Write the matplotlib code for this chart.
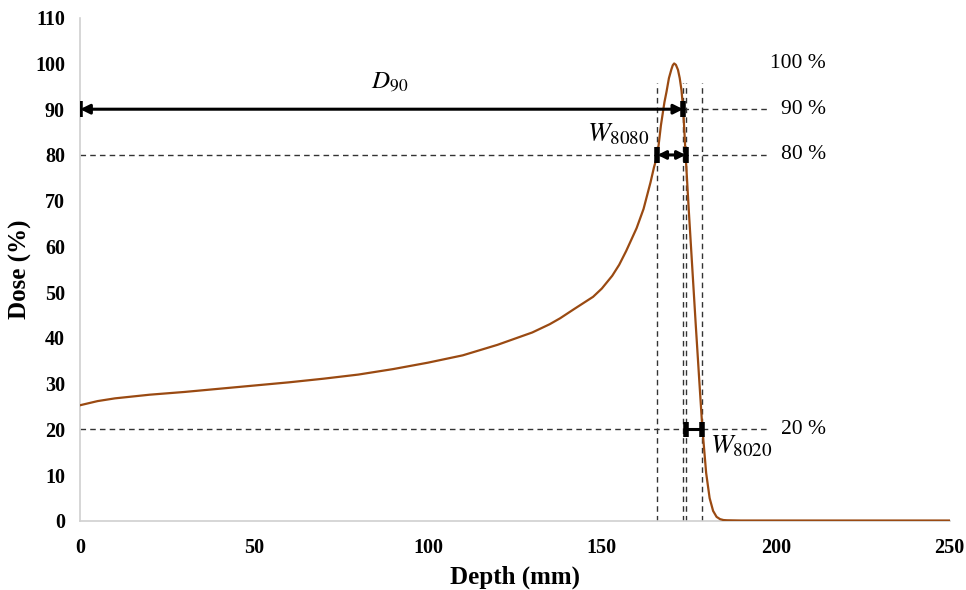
import numpy as np
import matplotlib.pyplot as plt

plt.rcParams['font.family'] = 'Liberation Serif'
plt.rcParams['mathtext.fontset'] = 'stix'

# depth-dose curve
depth = [0, 5, 10, 20, 30, 40, 50, 60, 70, 80, 90, 100, 110, 120, 130, 135,
         138, 142, 147.5, 150, 153, 155, 157, 160, 162, 164, 165, 166, 167,
         168, 168.6, 169.3, 170.0, 170.4, 170.8, 171.3, 171.9, 172.4, 172.9,
         173.4, 174.1, 175, 176, 177, 178, 178.9, 180, 181, 182, 183, 184,
         185, 186, 190, 200, 250]
dose = [25.3, 26.2, 26.8, 27.6, 28.2, 28.9, 29.6, 30.3, 31.1, 32.0, 33.2, 34.6,
        36.2, 38.5, 41.2, 43.0, 44.3, 46.3, 49.0, 50.8, 53.6, 56.0, 59.0,
        64.0, 68.2, 74.0, 77.3, 80.0, 86.5, 91.5, 93.8, 96.8, 98.7, 99.6,
        100.0, 99.7, 98.6, 96.8, 94.2, 90.0, 80.0, 68.0, 55.5, 43.0, 31.0,
        20.4, 10.5, 5.0, 2.2, 0.9, 0.4, 0.2, 0.15, 0.1, 0.1, 0.1]

# range markers (mm)
x_prox80 = 166.0
x_d90 = 173.4
x_dist80 = 174.1
x_dist20 = 178.9
level_labels = ['100 %', '90 %', '80 %', '20 %']
level_y = [100, 90, 80, 20]

fig = plt.figure(figsize=(9.66, 5.90), dpi=100)
ax = fig.add_axes([0.083, 0.117, 0.900, 0.853])

ax.plot(depth, dose, color='#9a4a12', lw=1.6, zorder=3)

# vertical dashed lines
for xv in [x_prox80, x_d90, x_dist80, x_dist20]:
    ax.plot([xv, xv], [0, 95.7], ls=(0, (4, 3)), color='#333333', lw=1.0, zorder=2)

# horizontal dashed lines
xend = 198.3
ax.plot([x_d90, xend], [90, 90], ls=(0, (4, 3)), color='#333333', lw=1.0)
ax.plot([0, xend], [80, 80], ls=(0, (4, 3)), color='#333333', lw=1.0)
ax.plot([0, xend], [20, 20], ls=(0, (4, 3)), color='#333333', lw=1.0)

# percentage labels
for lab, yy in zip(level_labels, level_y):
    ax.text(214.5, yy, lab, ha='right', va='center', fontsize=15.5)

def bar(x, y):
    ax.plot([x, x], [y - 1.7, y + 1.7], color='black', lw=4, solid_capstyle='butt', zorder=5)

# D90
ax.annotate('', xy=(x_d90, 90), xytext=(0, 90),
            arrowprops=dict(arrowstyle='<|-|>', lw=2.2, color='black',
                            shrinkA=0, shrinkB=0, mutation_scale=14), zorder=5)
bar(0, 90)
bar(x_d90, 90)
ax.text(89, 96, r'$D_{90}$', ha='center', va='center', fontsize=18)

# W8080
ax.annotate('', xy=(x_dist80, 80), xytext=(x_prox80, 80),
            arrowprops=dict(arrowstyle='<|-|>', lw=2.2, color='black',
                            shrinkA=0, shrinkB=0, mutation_scale=12), zorder=5)
bar(x_prox80, 80)
bar(x_dist80, 80)
ax.text(163.5, 84.4, r'$W_{8080}$', ha='right', va='center', fontsize=19.5)

# W8020
ax.plot([x_dist80, x_dist20], [20, 20], color='black', lw=2.2, zorder=5)
bar(x_dist80, 20)
bar(x_dist20, 20)
ax.text(181, 16.2, r'$W_{8020}$', ha='left', va='center', fontsize=19.5)

ax.set_xlim(0, 250)
ax.set_ylim(0, 110)
ax.set_xticks(np.arange(0, 251, 50))
ax.set_yticks(np.arange(0, 111, 10))
ax.tick_params(axis='y', length=0, labelsize=14.5, pad=11)
ax.tick_params(axis='x', length=0, labelsize=14.5, pad=12)
for lab in ax.get_xticklabels() + ax.get_yticklabels():
    lab.set_fontweight('bold')
for s in ['top', 'right']:
    ax.spines[s].set_visible(False)
for s in ['left', 'bottom']:
    ax.spines[s].set_color('#d0d0d0')
    ax.spines[s].set_linewidth(1.2)

ax.set_xlabel('Depth (mm)', fontsize=18, fontweight='bold', labelpad=6)
ax.set_ylabel('Dose (%)', fontsize=18, fontweight='bold', labelpad=2)

fig.savefig('out.png', dpi=100)
